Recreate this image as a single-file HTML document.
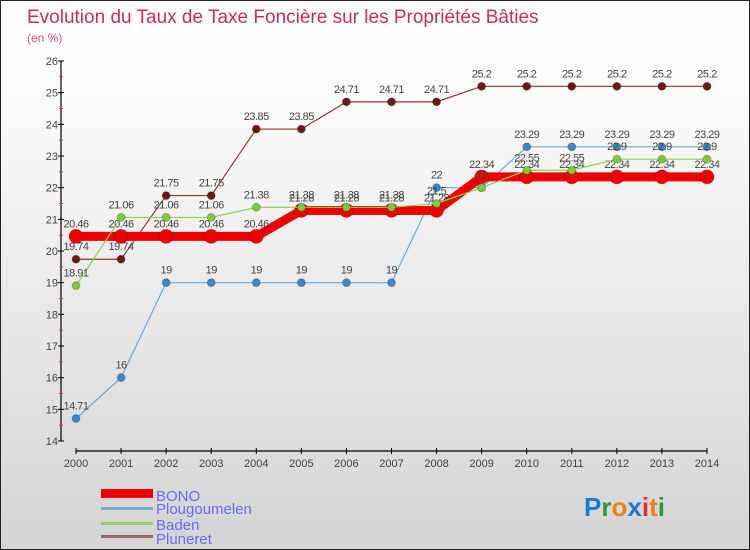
<!DOCTYPE html>
<html><head><meta charset="utf-8"><style>
body{margin:0}
#c{width:748px;height:548px;border:1px solid #222;background:linear-gradient(#fff,#fafafa 20%,#d4d4d4);position:relative;overflow:hidden;font-family:"Liberation Sans",sans-serif}
</style></head><body>
<div id="c">
<svg id="s" width="748" height="548">
<text x="26" y="22" font-size="19" fill="#c0305a">Evolution du Taux de Taxe Foncière sur les Propriétés Bâties</text>
<text x="26" y="41" font-size="12" fill="#d05080">(en %)</text>
<g id="axes"></g><g id="series"></g>
<g>
<rect x="100" y="488" width="52" height="9" fill="#e00"/>
<text x="155" y="500" font-size="15" fill="#6a6aff">BONO</text>
<rect x="100" y="506" width="52" height="3" fill="#80a8c8"/>
<text x="155" y="513" font-size="15" fill="#6a6aff">Plougoumelen</text>
<rect x="100" y="521" width="52" height="3" fill="#9c6"/>
<text x="155" y="529" font-size="15" fill="#6a6aff">Baden</text>
<rect x="100" y="534" width="52" height="3" fill="#966"/>
<text x="155" y="543" font-size="15" fill="#6a6aff">Pluneret</text>
</g>
<text x="583" y="515" font-size="26" font-weight="bold"><tspan fill="#1a7ad0">P</tspan><tspan fill="#2a9a40">r</tspan><tspan fill="#f08010">o</tspan><tspan fill="#1a7ad0">x</tspan><tspan fill="#e03030">i</tspan><tspan fill="#f08010">t</tspan><tspan fill="#2a9a40">i</tspan></text>
</svg></div>
<script>
const years=[2000,2001,2002,2003,2004,2005,2006,2007,2008,2009,2010,2011,2012,2013,2014];
const yTicks=[14,15,16,17,18,19,20,21,22,23,24,25,26];
const bono=[20.46,20.46,20.46,20.46,20.46,21.28,21.28,21.28,21.28,22.34,22.34,22.34,22.34,22.34,22.34];
const plougoumelen=[14.71,16,19,19,19,19,19,19,22,22,23.29,23.29,23.29,23.29,23.29];
const baden=[18.91,21.06,21.06,21.06,21.38,21.38,21.38,21.38,21.5,22,22.55,22.55,22.9,22.9,22.9];
const pluneret=[19.74,19.74,21.75,21.75,23.85,23.85,24.71,24.71,24.71,25.2,25.2,25.2,25.2,25.2,25.2];
const NS="http://www.w3.org/2000/svg";
const X=i=>75+i*(631/14), Y=v=>60+(26-v)*(380/12);
function mk(t,a,p){const e=document.createElementNS(NS,t);for(const k in a)e.setAttribute(k,a[k]);p.appendChild(e);return e;}
const ax=document.getElementById('axes');
mk('line',{x1:60,y1:60,x2:60,y2:440,stroke:'#000','stroke-width':1.2},ax);
yTicks.forEach(v=>{mk('line',{x1:57,y1:Y(v),x2:63,y2:Y(v),stroke:'#000'},ax);
 if(v<26)mk('line',{x1:58,y1:Y(v+0.5),x2:62,y2:Y(v+0.5),stroke:'#e33'},ax);
 const t=mk('text',{x:57,y:Y(v)+4,'font-size':11,fill:'#444','text-anchor':'end'},ax);t.textContent=v;
 });
mk('line',{x1:75,y1:450,x2:706,y2:450,stroke:'#000','stroke-width':1.2},ax);
years.forEach((y,i)=>{mk('line',{x1:X(i),y1:447,x2:X(i),y2:453,stroke:'#000'},ax);
 const t=mk('text',{x:X(i),y:466,'font-size':11,fill:'#444','text-anchor':'middle'},ax);t.textContent=y;
 });
const sg=document.getElementById('series');
function series(name,d,col,lw,r,dot){
 const g=mk('g',{},sg);
 
 
 mk('polyline',{points:d.map((v,i)=>X(i)+','+Y(v)).join(' '),fill:'none',stroke:col,'stroke-width':lw},g);
 d.forEach((v,i)=>{const c=mk('circle',{cx:X(i),cy:Y(v),r:r,fill:dot,stroke:'rgba(0,0,0,0.2)'},g);
  
  
  const t=mk('text',{x:X(i),y:Y(v)-9,'font-size':11,fill:'#444','text-anchor':'middle','letter-spacing':'-0.5'},g);t.textContent=v;
  
  });
}
series('pluneret',pluneret,'#8b3a3a',1.2,4,'#6b1a1a');
series('plougoumelen',plougoumelen,'#6aa8d8',1.2,4,'#3a88c8');
series('bono',bono,'#e00',9,7,'#e00');
series('baden',baden,'#8cd050',1.2,4,'#7acc3a');
</script>
</body></html>
